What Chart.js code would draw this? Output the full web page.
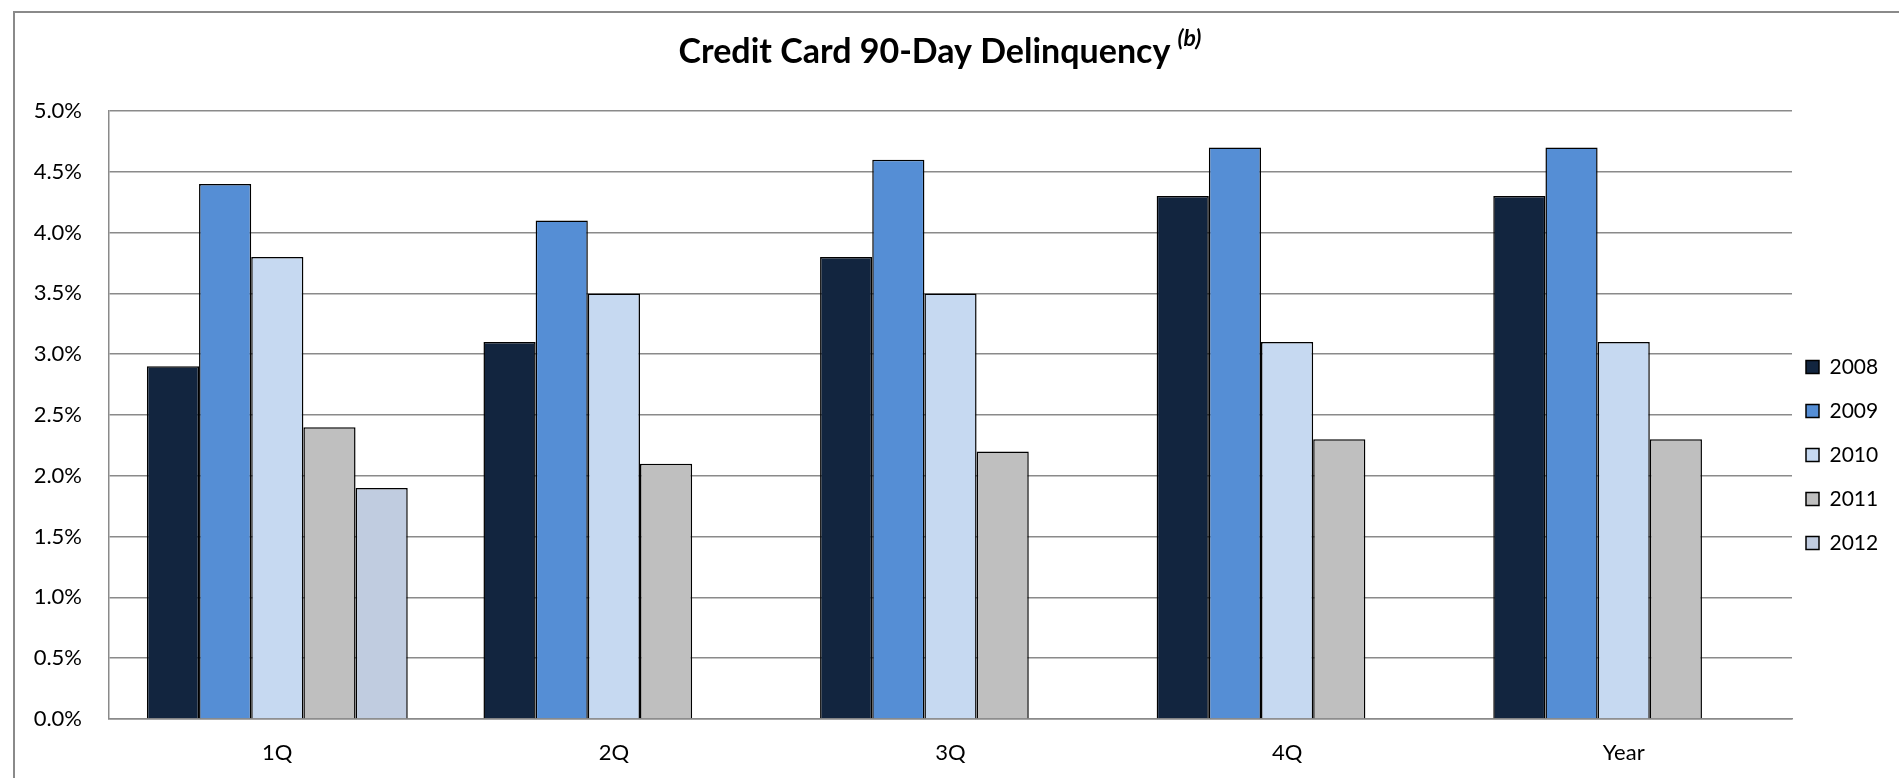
<!DOCTYPE html>
<html>
<head>
<meta charset="utf-8">
<script src="https://cdn.jsdelivr.net/npm/chart.js@4.4.1/dist/chart.umd.min.js"></script>
<style>
  html, body { margin: 0; padding: 0; background: #ffffff; }
  #wrap { position: relative; width: 1899px; height: 778px; overflow: hidden; }
  #frame { position: absolute; left: 13px; top: 11px; width: 2000px; height: 900px;
           border-left: 2px solid #8a8a8a; border-top: 2px solid #8a8a8a; pointer-events: none; }
  canvas { position: absolute; left: 0; top: 0; }
</style>
</head>
<body>
<div id="wrap">
  <canvas id="c" width="1899" height="778"></canvas>
  <div id="frame"></div>
</div>
<script>
// ---- data ----
const categories = ['1Q', '2Q', '3Q', '4Q', 'Year'];
const seriesNames = ['2008', '2009', '2010', '2011', '2012'];
const values2008 = [2.9, 3.1, 3.8, 4.3, 4.3];
const values2009 = [4.4, 4.1, 4.6, 4.7, 4.7];
const values2010 = [3.8, 3.5, 3.5, 3.1, 3.1];
const values2011 = [2.4, 2.1, 2.2, 2.3, 2.3];
const values2012 = [1.9, null, null, null, null];
const yTicks = [0, 0.5, 1.0, 1.5, 2.0, 2.5, 3.0, 3.5, 4.0, 4.5, 5.0];
const titleText = 'Credit Card 90-Day Delinquency';
const titleNote = '(b)';

const seriesValues = [values2008, values2009, values2010, values2011, values2012];
const seriesColors = ['#12253f', '#558ed5', '#c6d9f1', '#bfbfbf', '#c0cce0'];

const FONT = 'Lato, "Open Sans", sans-serif';

const titlePlugin = {
  id: 'excelTitle',
  afterDraw(chart) {
    const ctx = chart.ctx;
    ctx.save();
    ctx.fillStyle = '#000000';
    ctx.textBaseline = 'alphabetic';
    ctx.textAlign = 'left';
    const mainFont = 'bold 34px ' + FONT;
    const supFont = 'italic bold 23px ' + FONT;
    ctx.font = mainFont;
    const wMain = ctx.measureText(titleText).width;
    ctx.font = supFont;
    const wSup = ctx.measureText(titleNote).width;
    const gap = 7;
    const total = wMain + gap + wSup;
    const x0 = 940 - total / 2;
    ctx.font = mainFont;
    ctx.fillText(titleText, x0, 63);
    ctx.font = supFont;
    ctx.fillText(titleNote, x0 + wMain + gap, 46);
    ctx.restore();
  }
};

const legendPlace = {
  id: 'legendPlace',
  afterLayout(chart) {
    const l = chart.legend;
    if (!l) return;
    const dx = 1783 - l.left;
    const dy = 333.5 - l.top;
    l.left += dx; l.right += dx;
    l.top += dy; l.bottom += dy;
  }
};

new Chart(document.getElementById('c'), {
  type: 'bar',
  data: {
    labels: categories,
    datasets: seriesNames.map((name, i) => ({
      label: name,
      data: seriesValues[i],
      backgroundColor: seriesColors[i],
      borderColor: '#000000',
      borderWidth: 1.5,
      categoryPercentage: 0.775,
      barPercentage: 1.0
    }))
  },
  options: {
    responsive: false,
    animation: false,
    devicePixelRatio: 1,
    layout: { padding: { left: 14, right: 7, top: 111, bottom: 0 } },
    plugins: {
      title: { display: false },
      tooltip: { enabled: false },
      legend: {
        display: true,
        position: 'right',
        align: 'start',
        maxWidth: 100,
        labels: {
          boxWidth: 13,
          boxHeight: 13,
          padding: 23,
          color: '#000000',
          font: { family: FONT, size: 21 }
        }
      }
    },
    scales: {
      x: {
        grid: { display: false, drawTicks: false },
        border: { display: true, color: '#8a8a8a', width: 1.5 },
        ticks: { color: '#000000', padding: 21, font: { family: FONT, size: 22 } },
        afterFit(scale) { scale.height = 59; }
      },
      y: {
        min: 0,
        max: 5,
        afterBuildTicks(scale) { scale.ticks = yTicks.map(v => ({ value: v })); },
        grid: { color: '#8a8a8a', lineWidth: 1.5, drawTicks: false },
        border: { display: true, color: '#8a8a8a', width: 1.5 },
        ticks: {
          color: '#000000',
          padding: 27,
          font: { family: FONT, size: 22 },
          callback: v => Number(v).toFixed(1) + '%'
        },
        afterFit(scale) { scale.width = 95; }
      }
    }
  },
  plugins: [titlePlugin, legendPlace]
});
</script>
</body>
</html>
